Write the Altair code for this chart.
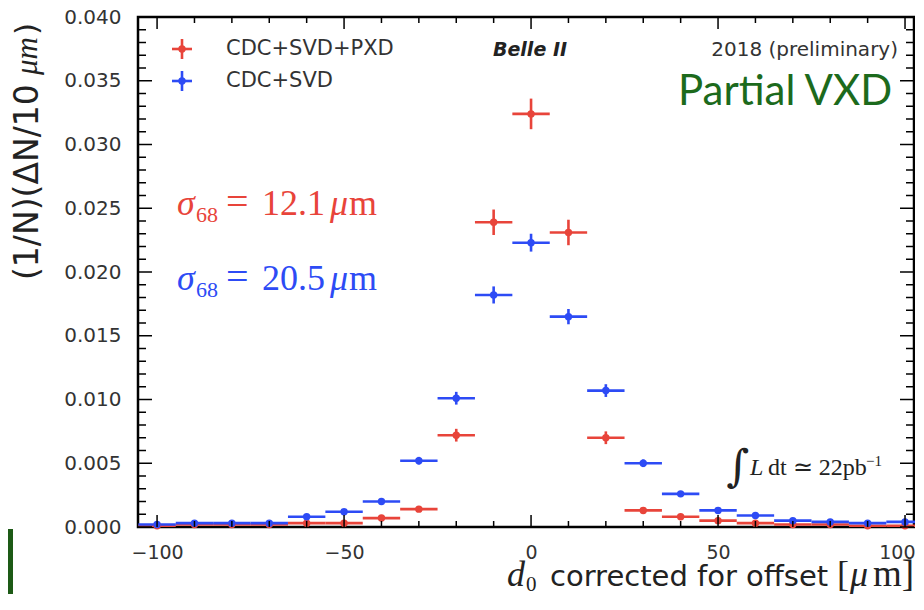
import altair as alt
import pandas as pd

# ---------------- data ----------------
d0_bins = [-100, -90, -80, -70, -60, -50, -40, -30, -20, -10, 0,
           10, 20, 30, 40, 50, 60, 70, 80, 90, 100]
bin_half_width = 5

pxd_vals = [0.0001, 0.0002, 0.0002, 0.0002, 0.0003, 0.0003, 0.0007, 0.0014, 0.0072, 0.0239, 0.0324,
            0.0231, 0.0070, 0.0013, 0.0008, 0.0005, 0.0003, 0.0002, 0.0002, 0.0001, 0.0001]
pxd_errs = [0.0001, 0.0001, 0.0001, 0.0001, 0.0001, 0.0001, 0.00015, 0.0002, 0.0005, 0.0010, 0.0012,
            0.0010, 0.0005, 0.0002, 0.00015, 0.0001, 0.0001, 0.0001, 0.0001, 0.0001, 0.0001]

svd_vals = [0.0002, 0.0003, 0.0003, 0.0003, 0.0008, 0.0012, 0.0020, 0.0052, 0.0101, 0.0182, 0.0223,
            0.0165, 0.0107, 0.0050, 0.0026, 0.0013, 0.0009, 0.0005, 0.0004, 0.0003, 0.0004]
svd_errs = [0.00015, 0.00015, 0.00015, 0.00015, 0.0002, 0.0002, 0.0002, 0.0003, 0.0005, 0.00067, 0.0007,
            0.0006, 0.0005, 0.0003, 0.0002, 0.0002, 0.0002, 0.00015, 0.00015, 0.00015, 0.00015]

series_names = ["CDC+SVD+PXD", "CDC+SVD"]
series_colors = ["#e8443a", "#2d4bf5"]

x_tick_labels = [-100, -50, 0, 50, 100]
y_tick_labels = [0.000, 0.005, 0.010, 0.015, 0.020, 0.025, 0.030, 0.035, 0.040]
x_minor = [-100, -90, -80, -70, -60, -50, -40, -30, -20, -10, 0, 10, 20, 30, 40, 50, 60, 70, 80, 90, 100]
y_minor = [i / 1000 for i in range(0, 41)]

# ---------------- table ----------------
rows = []
for name, vals, errs in [(series_names[0], pxd_vals, pxd_errs), (series_names[1], svd_vals, svd_errs)]:
    for d, v, e in zip(d0_bins, vals, errs):
        rows.append({"series": name, "d0": d, "lo": d - bin_half_width, "hi": d + bin_half_width,
                     "val": v, "ylo": max(v - e, 0), "yhi": v + e})
df = pd.DataFrame(rows)

W, H = 776, 510
xscale = alt.Scale(domain=[-105.1, 102.4], nice=False, zero=False)
yscale = alt.Scale(domain=[0, 0.04], nice=False, zero=False)
SANS = "DejaVu Sans"
SERIF = "Liberation Serif"
xaxis = alt.Axis(values=x_tick_labels, ticks=False, domain=False, grid=False, title=None,
                 labelFont=SANS, labelFontSize=19, labelColor="#333333", labelPadding=16,
                 labelFlush=10, labelFlushOffset=10, labelOverlap=False, format="d")
yaxis = alt.Axis(values=y_tick_labels, ticks=False, domain=False, grid=False, title=None,
                 labelFont=SANS, labelFontSize=20, labelColor="#333333", labelPadding=17,
                 labelFlush=False, labelOverlap=False, format=".3f")
color = alt.Color("series:N", scale=alt.Scale(domain=series_names, range=series_colors), legend=None)

base = alt.Chart(df)
hbars = base.mark_rule(strokeWidth=2.6).encode(
    x=alt.X("lo:Q", scale=xscale, axis=xaxis), x2="hi:Q",
    y=alt.Y("val:Q", scale=yscale, axis=yaxis), color=color)
vbars = base.mark_rule(strokeWidth=2.6).encode(
    x=alt.X("d0:Q", scale=xscale, axis=xaxis),
    y=alt.Y("ylo:Q", scale=yscale, axis=yaxis), y2="yhi:Q", color=color)
pts = base.mark_circle(size=55, opacity=1).encode(
    x=alt.X("d0:Q", scale=xscale, axis=xaxis),
    y=alt.Y("val:Q", scale=yscale, axis=yaxis), color=color)

# inward ticks on all four sides
xt = pd.DataFrame({"v": x_minor, "major": [v % 50 == 0 for v in x_minor]})
yt = pd.DataFrame({"v": y_minor, "major": [round(v * 1000) % 5 == 0 for v in y_minor]})
tick_layers = []
for major, ln in [(True, 12), (False, 6)]:
    xs = alt.Chart(xt).transform_filter(alt.datum.major == major)
    tick_layers.append(xs.mark_rule(color="black", strokeWidth=1.5).encode(
        x=alt.X("v:Q", scale=xscale, axis=xaxis), y=alt.value(H), y2=alt.value(H - ln)))
    tick_layers.append(xs.mark_rule(color="black", strokeWidth=1.5).encode(
        x=alt.X("v:Q", scale=xscale, axis=xaxis), y=alt.value(0), y2=alt.value(ln)))
for major, ln in [(True, 14), (False, 8)]:
    ys = alt.Chart(yt).transform_filter(alt.datum.major == major)
    tick_layers.append(ys.mark_rule(color="black", strokeWidth=1.5).encode(
        y=alt.Y("v:Q", scale=yscale, axis=yaxis), x=alt.value(0), x2=alt.value(ln)))
    tick_layers.append(ys.mark_rule(color="black", strokeWidth=1.5).encode(
        y=alt.Y("v:Q", scale=yscale, axis=yaxis), x=alt.value(W), x2=alt.value(W - ln)))

one = pd.DataFrame({"a": [0]})


def txt(text, x, y, size, color="#333333", font=SANS, align="left", baseline="alphabetic",
        style="normal", weight="normal", angle=0):
    return alt.Chart(one).mark_text(text=text, fontSize=size, font=font, color=color, align=align,
                                    baseline=baseline, fontStyle=style, fontWeight=weight,
                                    angle=angle).encode(x=alt.value(x), y=alt.value(y))


ann = []
# legend
for (name, col, yy) in [(series_names[0], series_colors[0], 32), (series_names[1], series_colors[1], 64)]:
    ann.append(alt.Chart(one).mark_rule(color=col, strokeWidth=2.6).encode(
        x=alt.value(34), x2=alt.value(54), y=alt.value(yy)))
    ann.append(alt.Chart(one).mark_rule(color=col, strokeWidth=2.6).encode(
        x=alt.value(44), y=alt.value(yy - 10), y2=alt.value(yy + 10)))
    ann.append(alt.Chart(one).mark_circle(color=col, size=55, opacity=1).encode(
        x=alt.value(44), y=alt.value(yy)))
    ann.append(txt(name, 88, yy, 21, baseline="middle"))

ann.append(txt("Belle II", 392, 33, 19, color="#222222", align="center", baseline="middle",
               style="italic", weight="bold"))
ann.append(txt("2018 (preliminary)", 760, 33, 20, align="right", baseline="middle"))
ann.append(txt("Partial VXD", 540, 88, 42, color="#1c6a1c", font="Lato"))

for col, val, yb in [(series_colors[0], "12.1", 198), (series_colors[1], "20.5", 273)]:
    ann.append(txt("σ", 39, yb, 36, color=col, font=SERIF, style="italic"))
    ann.append(txt("68", 58, yb + 7, 22, color=col, font=SERIF))
    ann.append(txt("=", 88, yb, 40, color=col, font=SERIF))
    ann.append(txt(val, 124, yb, 36, color=col, font=SERIF))
    ann.append(txt("μ", 192, yb, 36, color=col, font=SERIF, style="italic"))
    ann.append(txt("m", 211, yb, 36, color=col, font=SERIF))

# luminosity
ann.append(txt("∫", 600, 451, 44, color="#222222", font="DejaVu Serif", align="center", baseline="middle"))
ann.append(txt("L", 612, 458, 24, color="#222222", font=SERIF, style="italic"))
ann.append(txt("dt ≃ 22pb", 630, 458, 24, color="#222222", font=SERIF))
ann.append(txt("−1", 728, 449, 15, color="#222222", font=SERIF))

# axis titles
ann.append(txt("(1/N)(ΔN/10", -110, 263, 33, color="#222222", align="left", baseline="middle", angle=270))
ann.append(txt("μm", -110, 20, 31, color="#222222", font=SERIF, style="italic", align="right",
               baseline="middle", angle=270))
ann.append(txt(")", -110, 6, 31, color="#222222", align="right", baseline="middle", angle=270))

ann.append(txt("d", 369, 569, 36, color="#222222", font=SERIF, style="italic"))
ann.append(txt("0", 388, 574, 21, color="#222222", font=SERIF))
ann.append(txt("corrected for offset", 412, 569, 29, color="#222222"))
ann.append(txt("[", 699, 569, 36, color="#222222", font=SERIF))
ann.append(txt("μ", 712, 569, 36, color="#222222", font=SERIF, style="italic"))
ann.append(txt("m]", 776, 569, 37, color="#222222", font=SERIF, align="right"))

# slide decoration at bottom-left
ann.append(alt.Chart(one).mark_rect(color="#1d5a16").encode(
    x=alt.value(-130), x2=alt.value(-125), y=alt.value(512), y2=alt.value(577)))

chart = alt.layer(hbars, vbars, pts, *tick_layers, *ann).properties(
    width=W, height=H,
    autosize=alt.AutoSizeParams(type="none"),
    padding={"left": 130, "top": 9, "right": 1, "bottom": 67},
).configure_view(stroke="black", strokeWidth=2.5)

chart.save("out.html", embed_options={"renderer": "svg", "actions": False})
